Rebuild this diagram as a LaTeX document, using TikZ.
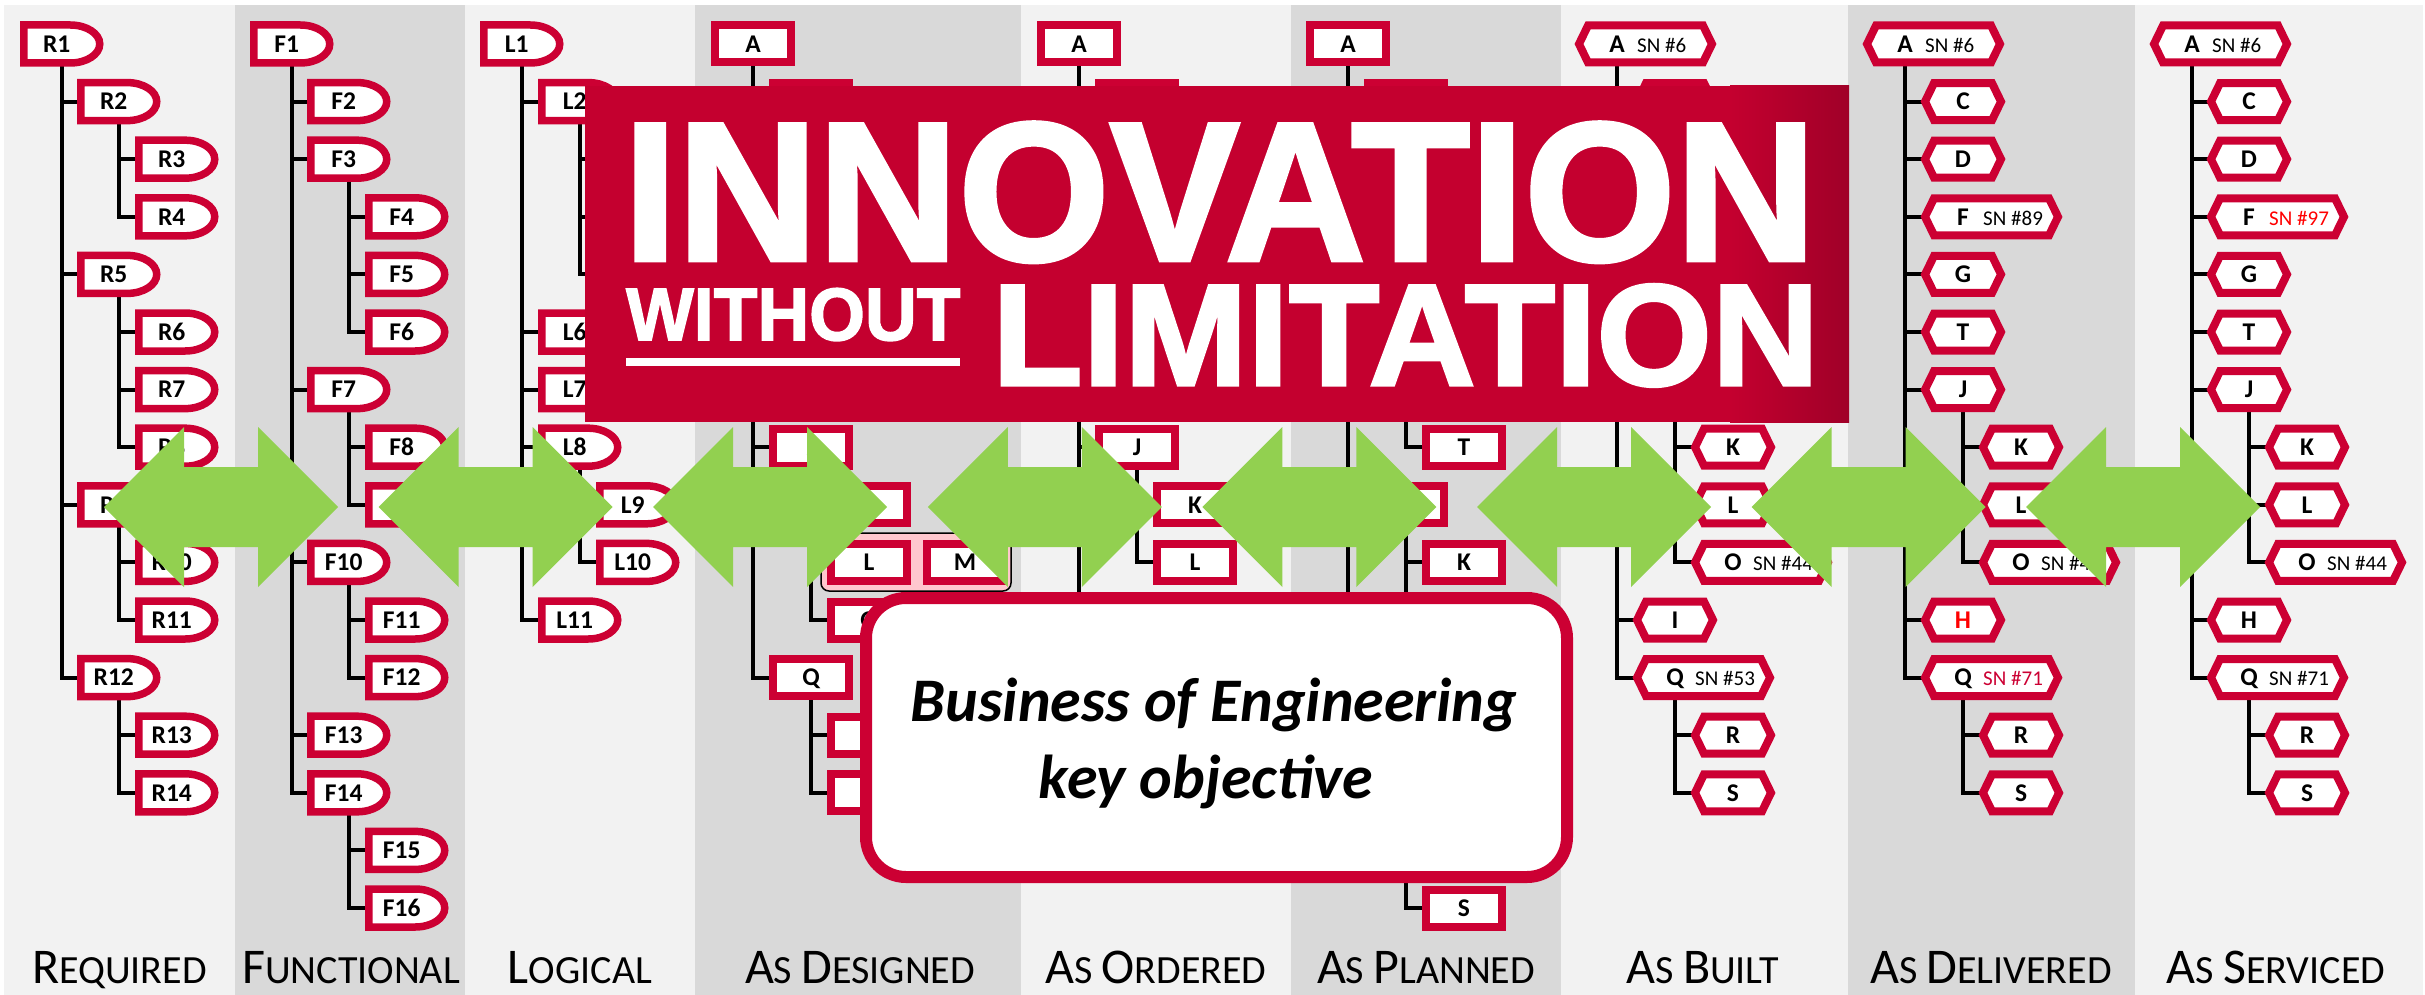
\documentclass[tikz,border=0pt]{standalone}
\usepackage{fontspec}
\setmainfont{Carlito}
\newfontfamily\bannerfont{Liberation Sans}[BoldFeatures={FakeBold=2}]
\usetikzlibrary{calc}
\definecolor{crim}{HTML}{CC0033}
\definecolor{colA}{HTML}{F2F2F2}
\definecolor{colB}{HTML}{D9D9D9}
\definecolor{agreen}{HTML}{92D050}
\definecolor{bred}{HTML}{C4002F}
\definecolor{bdark}{HTML}{A00028}
\definecolor{gpink}{HTML}{FFC7CE}
\definecolor{snred}{HTML}{FF0000}
\pgfdeclarelayer{bg}\pgfdeclarelayer{lines}\pgfdeclarelayer{shapes}
\pgfsetlayers{bg,lines,shapes,main}
\tikzset{
 lab/.style={inner sep=0pt, minimum width=76pt, minimum height=38pt, text height=16.5pt, text depth=0pt, font=\fontsize{25.5}{30}\selectfont\bfseries},
 bord/.style={draw=crim, line width=7.5pt, fill=white},
 tree/.style={line width=4pt, draw=black},
 sn/.style={inner sep=0pt, font=\fontsize{21}{25}\selectfont, anchor=base west},
 collab/.style={inner sep=0pt, anchor=base},
 bt/.style={inner sep=0pt, anchor=base, font=\fontsize{62}{74}\selectfont\bfseries\itshape},
 ban/.style={inner sep=0pt, anchor=north west, text=white}
}
\newcommand\BigC{\fontsize{50}{60}\selectfont}
\newcommand\SmlC{\fontsize{40}{48}\selectfont}
% D-shaped node: name, outer left x, row, text
\newcommand\DN[4]{%
 \node[lab] (#1) at ({#2+41.75},{-(44+57.6*(#3))}) {#4\kern10pt};
 \begin{pgfonlayer}{shapes}
 \draw[bord] ($(#1.center)+(8.5,-19)$) -- ($(#1.center)+(-38,-19)$) -- ($(#1.center)+(-38,19)$) -- ($(#1.center)+(8.5,19)$) arc[start angle=90,end angle=-90,x radius=29.5pt,y radius=19pt] -- cycle;
 \end{pgfonlayer}}
% rectangle node
\newcommand\RN[4]{%
 \node[lab] (#1) at ({#2+42},{-(44+57.6*(#3))}) {#4};
 \begin{pgfonlayer}{shapes}
 \draw[bord, line width=8pt] ($(#1.center)+(-38,-18.5)$) rectangle ($(#1.center)+(38,18.5)$);
 \end{pgfonlayer}}
% hexagon node: name, left, row, text, extra width
\newcommand\HN[5]{%
 \node[lab] (#1) at ({#2+42},{-(44+57.6*(#3))}) {#4};
 \begin{pgfonlayer}{shapes}
 \draw[bord, line width=8pt] ($(#1.center)+(-38,0)$) -- ($(#1.center)+(-29,18.5)$) -- ($(#1.center)+(29+#5,18.5)$) -- ($(#1.center)+(38+#5,0)$) -- ($(#1.center)+(29+#5,-18.5)$) -- ($(#1.center)+(-29,-18.5)$) -- cycle;
 \end{pgfonlayer}}
\newcommand\SNT[3]{\node[sn, text=#3] (#1sn) at ([xshift=20pt]#1.base) {#2};}
\newcommand\ARR[1]{\fill[agreen] (#1,-507) -- ++(80,80) -- ++(0,-40) -- ++(74,0) -- ++(0,40) -- ++(80,-80) -- ++(-80,-80) -- ++(0,40) -- ++(-74,0) -- ++(0,-40) -- cycle;}
\begin{document}
\begin{tikzpicture}[x=1pt,y=1pt]
\useasboundingbox (0,0) rectangle (2425,-995);
\begin{pgfonlayer}{bg}
\fill[white] (0,0) rectangle (2425,-995);
\fill[colA] (4,-5) rectangle (235,-995);
\fill[colB] (235,-5) rectangle (465,-995);
\fill[colA] (465,-5) rectangle (695,-995);
\fill[colB] (695,-5) rectangle (1021,-995);
\fill[colA] (1021,-5) rectangle (1291,-995);
\fill[colB] (1291,-5) rectangle (1561,-995);
\fill[colA] (1561,-5) rectangle (1848,-995);
\fill[colB] (1848,-5) rectangle (2135,-995);
\fill[colA] (2135,-5) rectangle (2423,-995);
\end{pgfonlayer}
% Required
\DN{R1}{20}{0}{R1}
\DN{R2}{77}{1}{R2}
\DN{R3}{135}{2}{R3}
\DN{R4}{135}{3}{R4}
\DN{R5}{77}{4}{R5}
\DN{R6}{135}{5}{R6}
\DN{R7}{135}{6}{R7}
\DN{R8}{135}{7}{R8}
\DN{R9}{77}{8}{R9}
\DN{R10}{135}{9}{R10}
\DN{R11}{135}{10}{R11}
\DN{R12}{77}{11}{R12}
\DN{R13}{135}{12}{R13}
\DN{R14}{135}{13}{R14}
% Functional
\DN{F1}{250}{0}{F1}
\DN{F2}{307}{1}{F2}
\DN{F3}{307}{2}{F3}
\DN{F4}{365}{3}{F4}
\DN{F5}{365}{4}{F5}
\DN{F6}{365}{5}{F6}
\DN{F7}{307}{6}{F7}
\DN{F8}{365}{7}{F8}
\DN{F9}{365}{8}{F9}
\DN{F10}{307}{9}{F10}
\DN{F11}{365}{10}{F11}
\DN{F12}{365}{11}{F12}
\DN{F13}{307}{12}{F13}
\DN{F14}{307}{13}{F14}
\DN{F15}{365}{14}{F15}
\DN{F16}{365}{15}{F16}
% Logical
\DN{L1}{480}{0}{L1}
\DN{L2}{538}{1}{L2}
\DN{L3}{596}{2}{}
\DN{L4}{596}{3}{}
\DN{L5}{596}{4}{}
\DN{L6}{538}{5}{L6}
\DN{L7}{538}{6}{L7}
\DN{L8}{538}{7}{L8}
\DN{L9}{596}{8}{L9}
\DN{L10}{596}{9}{L10}
\DN{L11}{538}{10}{L11}
% As Designed
\RN{dA}{711}{0}{A}
\RN{dB}{769}{1}{}
\RN{dJ}{769}{7}{J}
\RN{dK}{827}{8}{K}
\begin{pgfonlayer}{shapes}
\draw[line width=1.5pt, draw=black, fill=gpink, rounded corners=8pt] (821,-533) rectangle (1011,-591);
\end{pgfonlayer}
\RN{dL}{827}{9}{L}
\RN{dM}{923}{9}{M}
\RN{dO}{827}{10}{O}
\RN{dQ}{769}{11}{Q}
\RN{dR}{827}{12}{}
\RN{dS}{827}{13}{}
% As Ordered
\RN{oA}{1037}{0}{A}
\RN{oB}{1095}{1}{}
\RN{oJ}{1095}{7}{J}
\RN{oK}{1153}{8}{K}
\RN{oL}{1153}{9}{L}
\coordinate (oE) at (1079,{-(44+57.6*11)});
% As Planned
\RN{pA}{1306}{0}{A}
\RN{pB}{1364}{1}{}
\RN{pT}{1422}{7}{T}
\RN{pJ}{1364}{8}{}
\RN{pK}{1422}{9}{K}
\RN{pQ}{1364}{13}{}
\RN{pS}{1422}{15}{S}
\coordinate (pJe) at (1406,{-(44+57.6*12)});
% As Built
\HN{bA}{1575}{0}{A}{57}\SNT{bA}{SN \#6}{black}
\HN{bC}{1633}{1}{}{0}
\HN{bJ}{1633}{6}{}{0}
\HN{bK}{1691}{7}{K}{0}
\HN{bL}{1691}{8}{L}{0}
\HN{bO}{1691}{9}{O}{57}\SNT{bO}{SN \#44}{black}
\HN{bI}{1633}{10}{I}{0}
\HN{bQ}{1633}{11}{Q}{57}\SNT{bQ}{SN \#53}{black}
\HN{bR}{1691}{12}{R}{0}
\HN{bS}{1691}{13}{S}{0}
% As Delivered
\HN{vA}{1863}{0}{A}{57}\SNT{vA}{SN \#6}{black}
\HN{vC}{1921}{1}{C}{0}
\HN{vD}{1921}{2}{D}{0}
\HN{vF}{1921}{3}{F}{57}\SNT{vF}{SN \#89}{black}
\HN{vG}{1921}{4}{G}{0}
\HN{vT}{1921}{5}{T}{0}
\HN{vJ}{1921}{6}{J}{0}
\HN{vK}{1979}{7}{K}{0}
\HN{vL}{1979}{8}{L}{0}
\HN{vO}{1979}{9}{O}{57}\SNT{vO}{SN \#44}{black}
\HN{vH}{1921}{10}{\textcolor{snred}{H}}{0}
\HN{vQ}{1921}{11}{Q}{57}\SNT{vQ}{SN \#71}{crim}
\HN{vR}{1979}{12}{R}{0}
\HN{vS}{1979}{13}{S}{0}
% As Serviced
\HN{sA}{2150}{0}{A}{57}\SNT{sA}{SN \#6}{black}
\HN{sC}{2207}{1}{C}{0}
\HN{sD}{2207}{2}{D}{0}
\HN{sF}{2207}{3}{F}{57}\SNT{sF}{SN \#97}{snred}
\HN{sG}{2207}{4}{G}{0}
\HN{sT}{2207}{5}{T}{0}
\HN{sJ}{2207}{6}{J}{0}
\HN{sK}{2265}{7}{K}{0}
\HN{sL}{2265}{8}{L}{0}
\HN{sO}{2265}{9}{O}{57}\SNT{sO}{SN \#44}{black}
\HN{sH}{2207}{10}{H}{0}
\HN{sQ}{2207}{11}{Q}{57}\SNT{sQ}{SN \#71}{black}
\HN{sR}{2265}{12}{R}{0}
\HN{sS}{2265}{13}{S}{0}
% tree connectors
\begin{pgfonlayer}{lines}
\foreach \p/\c in {R1/R2,R1/R5,R1/R9,R1/R12,R2/R3,R2/R4,R5/R6,R5/R7,R5/R8,R9/R10,R9/R11,R12/R13,R12/R14,
 F1/F2,F1/F3,F1/F7,F1/F10,F1/F13,F1/F14,F3/F4,F3/F5,F3/F6,F7/F8,F7/F9,F10/F11,F10/F12,F14/F15,F14/F16,
 L1/L2,L1/L6,L1/L7,L1/L8,L1/L11,L2/L3,L2/L4,L2/L5,L8/L9,L8/L10,
 dA/dB,dA/dJ,dA/dQ,dJ/dK,dJ/dL,dJ/dO,dQ/dR,dQ/dS,
 oA/oB,oA/oJ,oJ/oK,oJ/oL,
 pA/pB,pA/pJ,pA/pQ,pB/pT,pJ/pK,pQ/pS,
 bA/bC,bA/bJ,bA/bI,bA/bQ,bJ/bK,bJ/bL,bJ/bO,bQ/bR,bQ/bS,
 vA/vC,vA/vD,vA/vF,vA/vG,vA/vT,vA/vJ,vA/vH,vA/vQ,vJ/vK,vJ/vL,vJ/vO,vQ/vR,vQ/vS,
 sA/sC,sA/sD,sA/sF,sA/sG,sA/sT,sA/sJ,sA/sH,sA/sQ,sJ/sK,sJ/sL,sJ/sO,sQ/sR,sQ/sS}
 \draw[tree] (\p.south) |- (\c.west);
\draw[tree] (oA.south) -- (oE);
\draw[tree] (pJ.south) -- (pJe);
\end{pgfonlayer}
% column labels
\node[collab] (cl1) at (119.5,-983) {\BigC R\SmlC EQUIRED};
\node[collab] (cl2) at (351,-983) {\BigC F\SmlC UNCTIONAL};
\node[collab] (cl3) at (580,-983) {\BigC L\SmlC OGICAL};
\node[collab] (cl4) at (860,-983) {\BigC A\SmlC S \BigC D\SmlC ESIGNED};
\node[collab] (cl5) at (1156,-983) {\BigC A\SmlC S \BigC O\SmlC RDERED};
\node[collab] (cl6) at (1426,-983) {\BigC A\SmlC S \BigC P\SmlC LANNED};
\node[collab] (cl7) at (1703,-983) {\BigC A\SmlC S \BigC B\SmlC UILT};
\node[collab] (cl8) at (1991,-983) {\BigC A\SmlC S \BigC D\SmlC ELIVERED};
\node[collab] (cl9) at (2276,-983) {\BigC A\SmlC S \BigC S\SmlC ERVICED};
% green double arrows
\foreach \i in {0,...,7} {\pgfmathsetmacro\ax{104+274.6*\i}\ARR{\ax}}
% banner
\fill[bred] (585,-86) rectangle (1849,-422);
\shade[left color=bred, right color=bdark] (1730,-86) rectangle (1849,-422);
\node[ban] (inno) at (623,-122) {\resizebox{1192pt}{138pt}{\bannerfont\bfseries INNOVATION}};
\node[ban] (without) at (626,-288) {\resizebox{334pt}{52pt}{\bannerfont\bfseries WITHOUT}};
\fill[white] (626,-358) rectangle (960,-366);
\node[ban] (limit) at (992,-284) {\resizebox{826pt}{101pt}{\bannerfont\bfseries LIMITATION}};
% business box
\node[draw=crim, line width=12pt, fill=white, rounded corners=40pt, minimum width=701pt, minimum height=279pt, inner sep=0pt] (boe) at (1216.5,-737.5) {};
\node[bt] (boe1) at (1214,-721) {Business of Engineering};
\node[bt] (boe2) at (1206,-798) {key objective};
\end{tikzpicture}
\end{document}
